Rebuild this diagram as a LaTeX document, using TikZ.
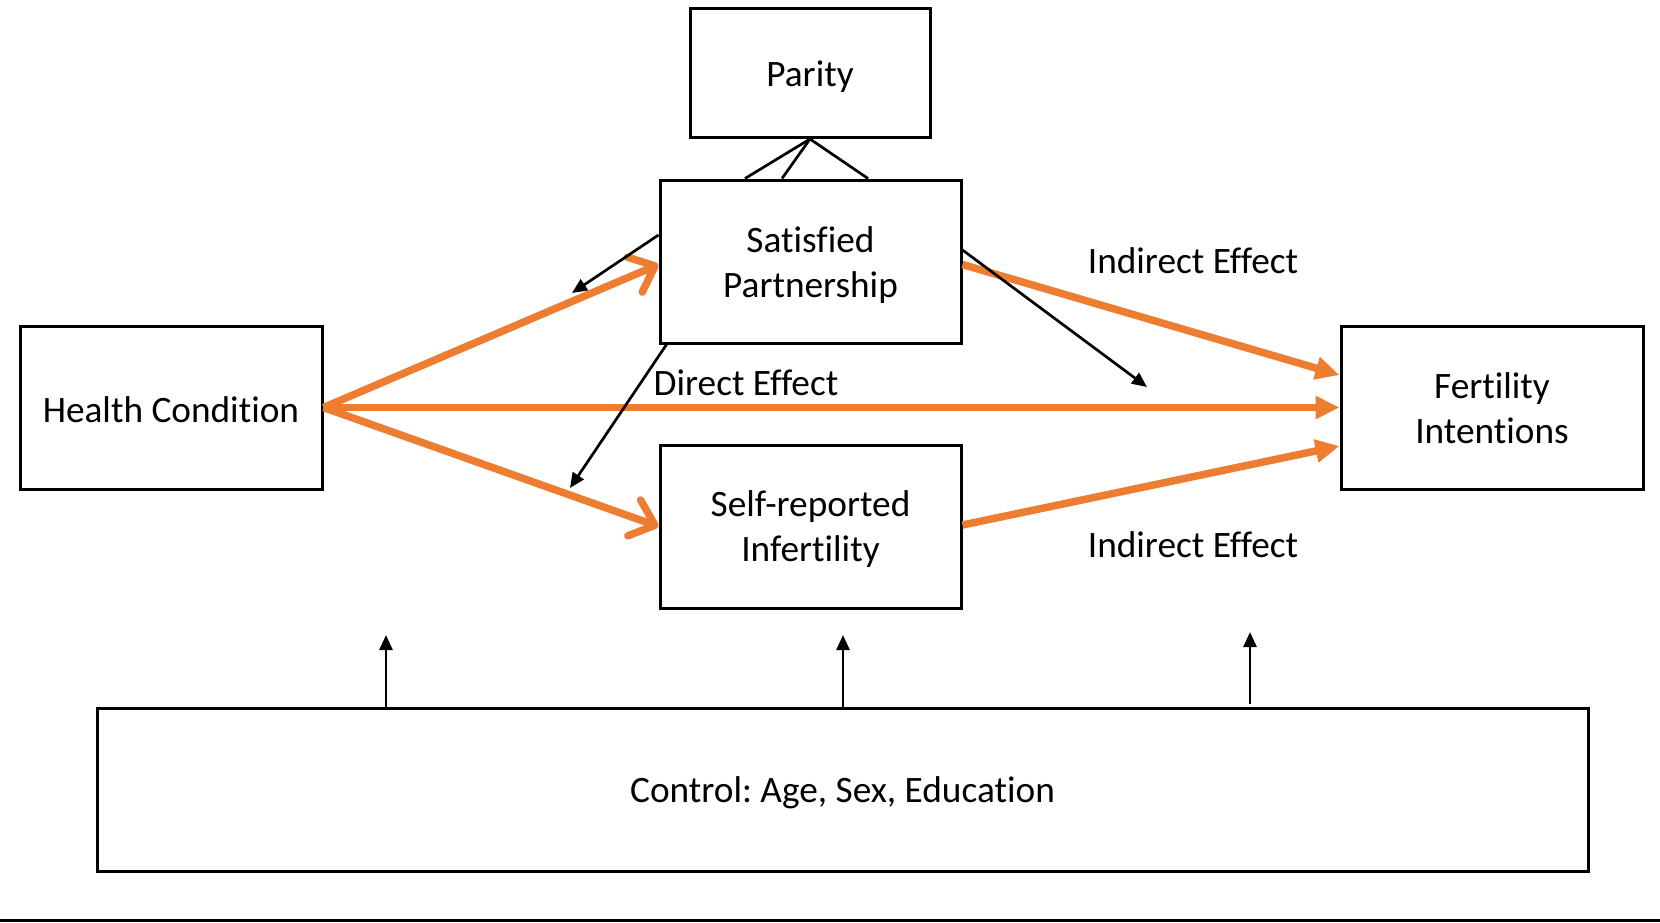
\documentclass[tikz,border=0pt]{standalone}
\usepackage{fontspec}
\setmainfont[Ligatures=NoCommon]{Carlito}
\usetikzlibrary{arrows.meta}
\definecolor{orng}{RGB}{237,125,49}
\frenchspacing
\begin{document}
\begin{tikzpicture}[x=1pt,y=-1pt,
  box/.style={draw=black,line width=3pt,rectangle,inner sep=0pt},
  lbl/.style={inner sep=0pt,align=center,font=\fontsize{37.3}{45}\selectfont},
  oline/.style={draw=orng,line width=7.5pt},
  obarb/.style={oline,-{Straight Barb[length=22pt,width=38pt,round]}},
  otri/.style={oline,-{Triangle[length=24pt,width=22pt]}},
  blk/.style={draw=black,line width=2.7pt,-{Triangle[length=15pt,width=13pt]}},
  thin/.style={draw=black,line width=2.7pt}]
\useasboundingbox (0,0) rectangle (1660,922);
\fill[white] (0,0) rectangle (1660,922);
% boxes
\node[box,minimum width=240pt,minimum height=129pt] (par) at (810,73) {};
\node[box,minimum width=301pt,minimum height=163pt] (sat) at (810.5,261.5) {};
\node[box,minimum width=302pt,minimum height=163pt] (hea) at (171,407.5) {};
\node[box,minimum width=301pt,minimum height=163pt] (inf) at (810.5,526.5) {};
\node[box,minimum width=302pt,minimum height=163pt] (fer) at (1492,407.5) {};
\node[box,minimum width=1491pt,minimum height=163pt] (con) at (842.5,789.5) {};
% box texts
\node[lbl,yshift=-4pt] (tpar) at (par.center) {Parity};
\node[lbl,yshift=-4pt] (tsat) at (sat.center) {Satisfied\\Partnership};
\node[lbl,yshift=-2pt] (thea) at (hea.center) {Health Condition};
\node[lbl,yshift=-3pt] (tinf) at (inf.center) {Self-reported\\Infertility};
\node[lbl,yshift=-1pt] (tfer) at (fer.center) {Fertility\\Intentions};
\node[lbl,yshift=-3pt] (tcon) at (con.center) {Control: Age, Sex, Education};
% labels
\node[lbl] (ie1) at (1193,261) {Indirect Effect};
\node[lbl] (de) at (746,383) {Direct Effect};
\node[lbl] (ie2) at (1193,545) {Indirect Effect};
% parity lines
\draw[thin] (par.south) -- ([xshift=-65.5pt]sat.north);
\draw[thin] (par.south) -- ([xshift=-28.5pt]sat.north);
\draw[thin] (par.south) -- ([xshift=57.5pt]sat.north);
% orange paths
\draw[obarb] (hea.east) -- ([yshift=-3pt]sat.west);
\draw[otri] (hea.east) -- (fer.west);
\draw[obarb] (hea.east) -- (inf.west);
\draw[otri] ([yshift=-3pt]sat.east) -- ([yshift=32.5pt]fer.west);
\draw[otri] ([yshift=1.5pt]inf.east) -- ([yshift=-38.5pt]fer.west);
% black arrows
\coordinate (b1) at (572,293);
\coordinate (b2) at (570,488);
\coordinate (b3) at (1147,387);
\draw[blk] ([yshift=26.5pt]sat.west) -- (b1);
\draw[blk] ([xshift=8pt]sat.south west) -- (b2);
\draw[blk] ([yshift=11.5pt]sat.east) -- (b3);
% up arrows
\coordinate (u1) at (386,635);
\coordinate (u2) at (843,635);
\coordinate (u3) at (1250,632);
\draw[blk] (con.north -| u1) -- (u1);
\draw[blk] (con.north -| u2) -- (u2);
\draw[blk] ([yshift=3pt]con.north -| u3) -- (u3);
% bottom line
\coordinate (l1) at (0,920);
\coordinate (l2) at (1660,920);
\draw[line width=3pt] (l1) -- (l2);
\end{tikzpicture}
\end{document}
